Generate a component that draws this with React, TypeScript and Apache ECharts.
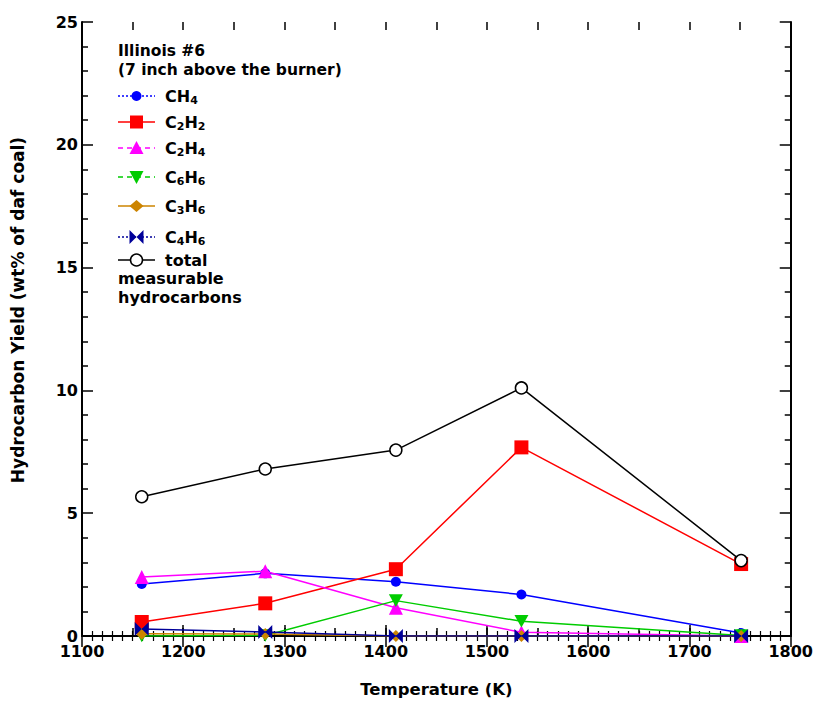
import React, { useEffect, useRef } from "react";
import * as echarts from "echarts";

const FONT = "'DejaVu Sans', 'Liberation Sans', Arial, sans-serif";

// Data
const temperatures = [1159, 1281, 1410, 1534, 1751];
const ch4 = [2.12, 2.55, 2.21, 1.69, 0.12];
const c2h2 = [0.57, 1.33, 2.72, 7.68, 2.93];
const c2h4 = [2.4, 2.64, 1.15, 0.15, 0.0];
const c6h6 = [0.0, 0.02, 1.44, 0.6, 0.02];
const c3h6 = [0.09, 0.08, 0.0, 0.0, 0.0];
const c4h6 = [0.28, 0.16, 0.0, 0.0, 0.0];
const total = [5.67, 6.8, 7.57, 10.1, 3.07];

const xTicks = { min: 1100, max: 1800, interval: 100 };
const yTicks = { min: 0, max: 25, interval: 5 };

const legendTitle = ["Illinois #6", "(7 inch above the burner)"];
const seriesNames = ["CH4", "C2H2", "C2H4", "C6H6", "C3H6", "C4H6", "total measurable hydrocarbons"];
const legendLabels = [
  "CH{s|4}",
  "C{s|2}H{s|2}",
  "C{s|2}H{s|4}",
  "C{s|6}H{s|6}",
  "C{s|3}H{s|6}",
  "C{s|4}H{s|6}",
  "total",
];

const BOWTIE = "path://M0,0 L0,10 L5,5 Z M10,0 L10,10 L5,5 Z";
const INV_TRI = "path://M0,0 L10,0 L5,9 Z";

const styles = [
  { color: "#0000ff", symbol: "circle", size: 10, legendDash: "dotted" },
  { color: "#ff0000", symbol: "rect", size: 14, legendDash: "solid" },
  { color: "#ff00ff", symbol: "triangle", size: 14, legendDash: "dashed" },
  { color: "#00cc00", symbol: INV_TRI, size: 14, legendDash: "dashed" },
  { color: "#cc8400", symbol: "diamond", size: 12, legendDash: "solid" },
  { color: "#000099", symbol: BOWTIE, size: 14, legendDash: "dotted" },
  { color: "#000000", symbol: "circle", size: 12, legendDash: "solid" },
];

const seriesValues = [ch4, c2h2, c2h4, c6h6, c3h6, c4h6, total];

function buildLegend(): any[] {
  const els: any[] = [];
  const x0 = 118;
  const x1 = 155;
  const mx = (x0 + x1) / 2;
  const tx = 165;
  els.push({
    type: "text",
    left: x0,
    top: 41,
    style: {
      text: legendTitle.join("\n"),
      font: `bold 15.5px ${FONT}`,
      fill: "#000",
      lineHeight: 19,
    },
  });
  const ys = [96, 122, 148, 177, 206, 237, 260];
  ys.forEach((y, i) => {
    const st = styles[i];
    let lineDash: any = null;
    if (st.legendDash === "dotted") lineDash = [2, 2];
    if (st.legendDash === "dashed") lineDash = [5, 4];
    els.push({
      type: "line",
      shape: { x1: x0, y1: y, x2: x1, y2: y },
      style: { stroke: st.color, lineWidth: 1.5, lineDash },
    });
    let marker: any;
    if (i === 0) {
      marker = { type: "circle", shape: { cx: mx, cy: y, r: 5 }, style: { fill: st.color } };
    } else if (i === 1) {
      marker = { type: "rect", shape: { x: mx - 6.5, y: y - 6.5, width: 13, height: 13 }, style: { fill: st.color } };
    } else if (i === 2) {
      marker = {
        type: "polygon",
        shape: { points: [[mx, y - 7], [mx + 7, y + 6], [mx - 7, y + 6]] },
        style: { fill: st.color },
      };
    } else if (i === 3) {
      marker = {
        type: "polygon",
        shape: { points: [[mx - 7, y - 6], [mx + 7, y - 6], [mx, y + 7]] },
        style: { fill: st.color },
      };
    } else if (i === 4) {
      marker = {
        type: "polygon",
        shape: { points: [[mx, y - 6], [mx + 7, y], [mx, y + 6], [mx - 7, y]] },
        style: { fill: st.color },
      };
    } else if (i === 5) {
      els.push({
        type: "polygon",
        shape: { points: [[mx - 7, y - 7], [mx, y], [mx - 7, y + 7]] },
        style: { fill: st.color },
      });
      marker = {
        type: "polygon",
        shape: { points: [[mx + 7, y - 7], [mx, y], [mx + 7, y + 7]] },
        style: { fill: st.color },
      };
    } else {
      marker = {
        type: "circle",
        shape: { cx: mx, cy: y, r: 6 },
        style: { fill: "#fff", stroke: "#000", lineWidth: 1.5 },
      };
    }
    els.push(marker);
    els.push({
      type: "text",
      x: tx,
      y: y,
      style: {
        text: legendLabels[i],
        font: `bold 16px ${FONT}`,
        fill: "#000",
        verticalAlign: "middle",
        rich: {
          s: {
            fontSize: 11,
            fontWeight: "bold",
            fontFamily: FONT,
            fill: "#000",
            padding: [9, 0, 0, 0],
          },
        },
      },
    });
  });
  els.push({
    type: "text",
    left: x0,
    top: 269,
    style: {
      text: "measurable\nhydrocarbons",
      font: `bold 16px ${FONT}`,
      fill: "#000",
      lineHeight: 19,
    },
  });
  // y axis title
  els.push({
    type: "text",
    x: 18,
    y: 310,
    rotation: Math.PI / 2,
    style: {
      text: "Hydrocarbon Yield (wt% of daf coal)",
      font: `bold 17px ${FONT}`,
      fill: "#000",
      align: "center",
      verticalAlign: "middle",
    },
  });
  return els;
}

export default function App() {
  const ref = useRef<HTMLDivElement>(null);
  useEffect(() => {
    if (!ref.current) return;
    const chart = echarts.init(ref.current, null, { renderer: "svg" });
    const axisLine = { show: true, lineStyle: { color: "#000", width: 2 } };
    const hiddenLabel = { show: false };
    const xCommon = { type: "value", min: xTicks.min, max: xTicks.max, splitLine: { show: false } };
    const yCommon = { type: "value", min: yTicks.min, max: yTicks.max, splitLine: { show: false } };
    const labelStyle = { color: "#000", fontSize: 16, fontWeight: "bold", fontFamily: FONT, lineHeight: 14 };
    const option: any = {
      animation: false,
      backgroundColor: "#fff",
      grid: { left: 82, right: 24, top: 22, bottom: 67, containLabel: false },
      xAxis: [
        {
          ...xCommon,
          position: "bottom",
          interval: xTicks.interval,
          axisLine,
          axisTick: { show: true, inside: true, length: 11, lineStyle: { color: "#000", width: 1.5 } },
          minorTick: { show: true, splitNumber: 10, length: 5, lineStyle: { color: "#000", width: 1.2 } },
          axisLabel: { show: true, ...labelStyle, margin: 8, formatter: (v: number) => String(v) },
          name: "Temperature (K)",
          nameLocation: "middle",
          nameGap: 45,
          nameTextStyle: { color: "#000", fontSize: 16.5, fontWeight: "bold", fontFamily: FONT },
        },
        {
          ...xCommon,
          position: "top",
          interval: xTicks.interval,
          axisLine,
          axisTick: { show: true, inside: true, length: 11, lineStyle: { color: "#000", width: 1.5 } },
          minorTick: { show: true, splitNumber: 10, length: 5, lineStyle: { color: "#000", width: 1.2 } },
          axisLabel: hiddenLabel,
        },
        {
          ...xCommon,
          position: "bottom",
          interval: 50,
          axisLine: { show: false },
          axisTick: { show: true, inside: true, length: 8, lineStyle: { color: "#000", width: 1.5 } },
          axisLabel: hiddenLabel,
        },
        {
          ...xCommon,
          position: "top",
          interval: 50,
          axisLine: { show: false },
          axisTick: { show: true, inside: true, length: 8, lineStyle: { color: "#000", width: 1.5 } },
          axisLabel: hiddenLabel,
        },
      ],
      yAxis: [
        {
          ...yCommon,
          position: "left",
          interval: yTicks.interval,
          axisLine,
          axisTick: { show: true, inside: true, length: 11, lineStyle: { color: "#000", width: 1.5 } },
          minorTick: { show: true, splitNumber: 5, length: 6, lineStyle: { color: "#000", width: 1.5 } },
          axisLabel: {
            show: true,
            ...labelStyle,
            margin: 4,
            padding: [0, 0, 4, 0],
            formatter: (v: number) => String(v),
          },
        },
        {
          ...yCommon,
          position: "right",
          interval: yTicks.interval,
          axisLine,
          axisTick: { show: true, inside: true, length: 11, lineStyle: { color: "#000", width: 1.5 } },
          minorTick: { show: true, splitNumber: 5, length: 6, lineStyle: { color: "#000", width: 1.5 } },
          axisLabel: hiddenLabel,
        },
      ],
      series: seriesValues.map((vals, i) => {
        const st = styles[i];
        const isTotal = i === 6;
        return {
          name: seriesNames[i],
          type: "line",
          xAxisIndex: 0,
          yAxisIndex: 0,
          data: temperatures.map((t, k) => [t, vals[k]]),
          symbol: st.symbol,
          symbolSize: st.size,
          symbolKeepAspect: true,
          showSymbol: true,
          lineStyle: { color: st.color, width: 1.5, type: "solid" },
          itemStyle: isTotal
            ? { color: "#fff", borderColor: "#000", borderWidth: 1.5 }
            : { color: st.color, borderWidth: 0 },
          emphasis: { disabled: true },
          z: 2 + i * 0.01,
        };
      }),
      graphic: buildLegend(),
    };
    chart.setOption(option);
    return () => chart.dispose();
  }, []);
  return (
    <div
      ref={ref}
      style={{ position: "absolute", left: 0, top: 0, width: 816, height: 703, overflow: "hidden" }}
    />
  );
}
